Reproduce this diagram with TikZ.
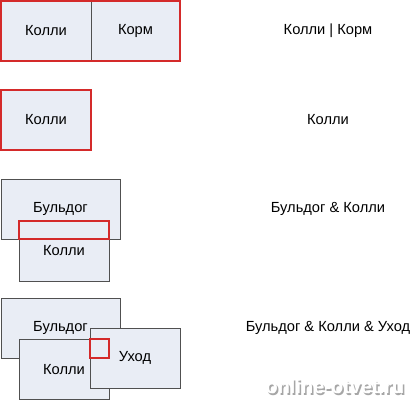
\documentclass[tikz,border=0pt]{standalone}
\usepackage{fontspec}
\setmainfont{Liberation Sans}
\definecolor{boxfill}{HTML}{E9EDF5}
\definecolor{boxline}{HTML}{505050}
\definecolor{hlred}{HTML}{D42A2A}
\tikzset{
  box/.style={draw=boxline, fill=boxfill, line width=0.6pt, minimum width=#1,
    minimum height=45pt, inner sep=0pt, font=\fontsize{11}{13}\selectfont},
  hl/.style={draw=hlred, line width=1.5pt},
  lbl/.style={inner sep=0pt, font=\fontsize{11}{13}\selectfont},
  wm/.style={inner sep=0pt, font=\bfseries\fontsize{15}{18}\selectfont}
}
\begin{document}
\begin{tikzpicture}[x=0.75pt, y=-0.75pt]
  \useasboundingbox[fill=white] (0,0) rectangle (412,400);
  % row 1
  \node[box=67.5pt]  (a1) at (46,31)    {Колли};
  \node[box=66.75pt] (a2) at (135.5,31) {Корм};
  \draw[hl] (a1.north west) rectangle (a2.south east);
  \node[lbl] (ta) at (328,31) {Колли | Корм};
  % row 2
  \node[box=67.5pt] (b1) at (46,120) {Колли};
  \draw[hl] (b1.north west) rectangle (b1.south east);
  \node[lbl] (tb) at (328,120) {Колли};
  % row 3
  \node[box=89.25pt] (c1) at (60.5,209) {Бульдог};
  \node[box=67.5pt]  (c2) at (64,251)   {Колли};
  \draw[hl] (c2.north west) rectangle (c1.south -| c2.east);
  \node[lbl] (tc) at (328,209) {Бульдог \& Колли};
  % row 4
  \node[box=89.25pt] (d1) at (60.5,328)  {Бульдог};
  \node[box=67.5pt]  (d2) at (64,369.5)  {Колли};
  \node[box=67.5pt]  (d3) at (135,358)   {Уход};
  \draw[hl] (d3.west |- d2.north) rectangle (d2.east |- d1.south);
  \node[lbl] (td) at (328,328) {Бульдог \& Колли \& Уход};
  % watermark
  \node[wm, text=black!35] (ws) at (336.5,388) {online-otvet.ru};
  \node[wm, text=white]    (wt) at (335,386.5) {online-otvet.ru};
\end{tikzpicture}
\end{document}
